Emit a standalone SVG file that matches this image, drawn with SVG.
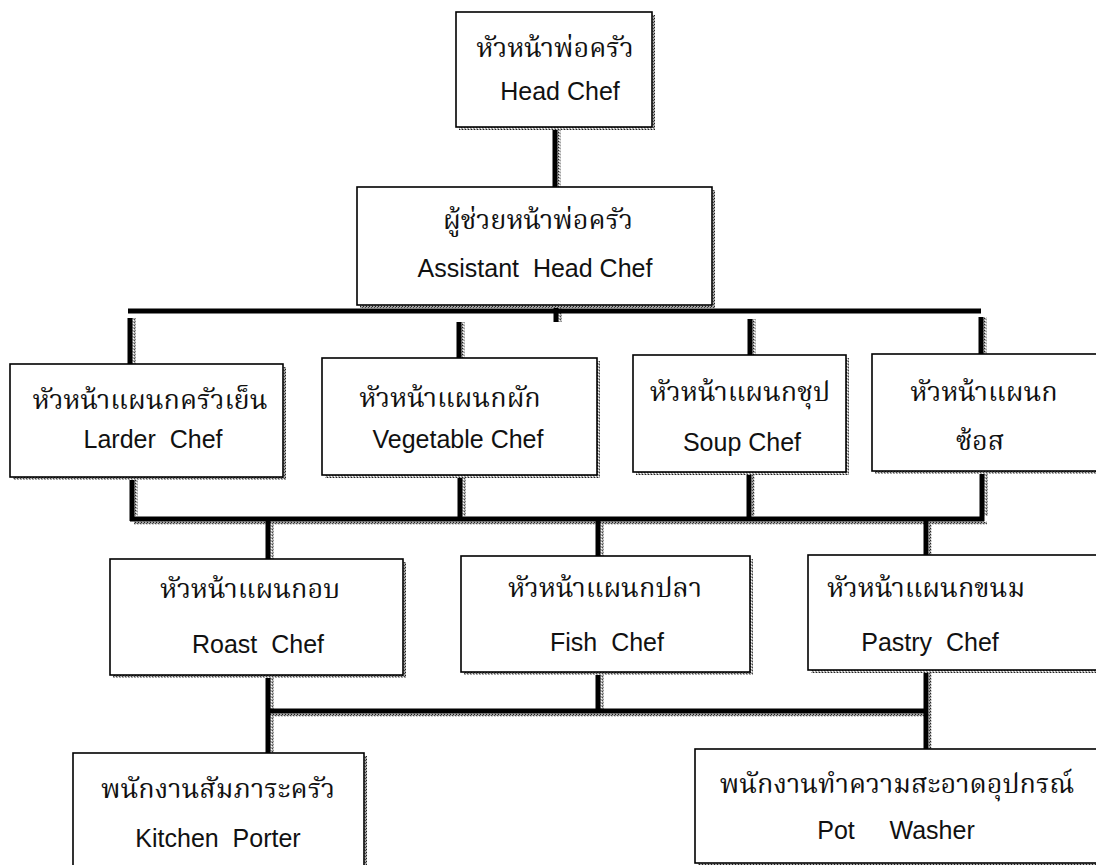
<svg xmlns="http://www.w3.org/2000/svg" width="1096" height="865" viewBox="0 0 1096 865">
<defs>
<pattern id="tex" width="3" height="3" patternUnits="userSpaceOnUse">
<rect width="3" height="3" fill="#a8a8a8"/>
<rect width="1" height="1" fill="#222"/>
<rect x="2" y="1" width="1" height="1" fill="#444"/>
<rect x="1" y="2" width="1" height="1" fill="#fff"/>
</pattern>
</defs>
<style>
.bx{fill:#fff;stroke:#000;stroke-width:1.6}
.sd{fill:url(#tex)}
.ln{stroke:#000;stroke-width:5;fill:none}
.sh{stroke:url(#tex);stroke-width:3;fill:none}
.th{font-family:"Noto Serif Thai","Noto Sans Thai Looped","Norasi","Tlwg Typo","Noto Sans Thai","Noto Sans",serif;font-size:27px;fill:#111;text-anchor:middle}
.en{font-family:"Liberation Sans",Arial,sans-serif;font-size:25px;fill:#111;text-anchor:middle;white-space:pre}
</style>
<rect width="1096" height="865" fill="#fff"/>
<g id="connectors">
<path class="sh" d="M559 128V187M560 306V322M134 318V364M463 322V358M754 319V355M985 317V354M136 479V516M464 477V516M753 474V516M986 473V516M134 523H987M272 523V559M602 523V556M930 523V555M272 677V753M602 674V709M930 672V749M270 715H930"/>
<path class="ln" d="M555 127V187M556 305V322M128 311H981M130 318V364M459 322V358M750 319V355M981 317V354M132 477V521M460 475V521M749 472V521M982 471V521M130 519H984M268 521V559M598 521V556M926 521V555M268 675V753M598 672V713M926 670V749M266 711H928"/>
</g>
<g id="head">
<rect class="sd" x="459" y="15" width="196" height="115"/>
<rect class="bx" x="456" y="12" width="196" height="115"/>
<text class="th" x="555" y="57">หัวหน้าพ่อครัว</text>
<text class="en" x="560" y="100" font-size="27">Head Chef</text>
</g>
<g id="assistant">
<rect class="sd" x="360" y="190" width="355" height="118"/>
<rect class="bx" x="357" y="187" width="355" height="118"/>
<text class="th" x="538" y="229">ผู้ช่วยหน้าพ่อครัว</text>
<text class="en" x="535" y="277" xml:space="preserve">Assistant  Head Chef</text>
</g>
<g id="larder">
<rect class="sd" x="13" y="367" width="273" height="113"/>
<rect class="bx" x="10" y="364" width="273" height="113"/>
<text class="th" x="150" y="409">หัวหน้าแผนกครัวเย็น</text>
<text class="en" x="153" y="448" xml:space="preserve">Larder  Chef</text>
</g>
<g id="vegetable">
<rect class="sd" x="325" y="361" width="275" height="117"/>
<rect class="bx" x="322" y="358" width="275" height="117"/>
<text class="th" x="450" y="407">หัวหน้าแผนกผัก</text>
<text class="en" x="458" y="448">Vegetable Chef</text>
</g>
<g id="soup">
<rect class="sd" x="636" y="358" width="213" height="117"/>
<rect class="bx" x="633" y="355" width="213" height="117"/>
<text class="th" x="740" y="401">หัวหน้าแผนกชุป</text>
<text class="en" x="742" y="451">Soup Chef</text>
</g>
<g id="sauce">
<rect class="sd" x="875" y="357" width="240" height="117"/>
<rect class="bx" x="872" y="354" width="240" height="117"/>
<text class="th" x="984" y="401">หัวหน้าแผนก</text>
<text class="th" x="980" y="450">ซ้อส</text>
</g>
<g id="roast">
<rect class="sd" x="113" y="562" width="293" height="116"/>
<rect class="bx" x="110" y="559" width="293" height="116"/>
<text class="th" x="250" y="598">หัวหน้าแผนกอบ</text>
<text class="en" x="258" y="653" xml:space="preserve">Roast  Chef</text>
</g>
<g id="fish">
<rect class="sd" x="464" y="559" width="289" height="116"/>
<rect class="bx" x="461" y="556" width="289" height="116"/>
<text class="th" x="605" y="597">หัวหน้าแผนกปลา</text>
<text class="en" x="607" y="651" xml:space="preserve">Fish  Chef</text>
</g>
<g id="pastry">
<rect class="sd" x="811" y="558" width="300" height="115"/>
<rect class="bx" x="808" y="555" width="300" height="115"/>
<text class="th" x="926" y="597">หัวหน้าแผนกขนม</text>
<text class="en" x="930" y="651" xml:space="preserve">Pastry  Chef</text>
</g>
<g id="porter">
<rect class="sd" x="76" y="756" width="291" height="120"/>
<rect class="bx" x="73" y="753" width="291" height="120"/>
<text class="th" x="218" y="798">พนักงานสัมภาระครัว</text>
<text class="en" x="218" y="847" xml:space="preserve">Kitchen  Porter</text>
</g>
<g id="potwasher">
<rect class="sd" x="698" y="752" width="410" height="114"/>
<rect class="bx" x="695" y="749" width="410" height="114"/>
<text class="th" x="897" y="793">พนักงานทำความสะอาดอุปกรณ์</text>
<text class="en" x="896" y="839" xml:space="preserve">Pot     Washer</text>
</g>
</svg>
